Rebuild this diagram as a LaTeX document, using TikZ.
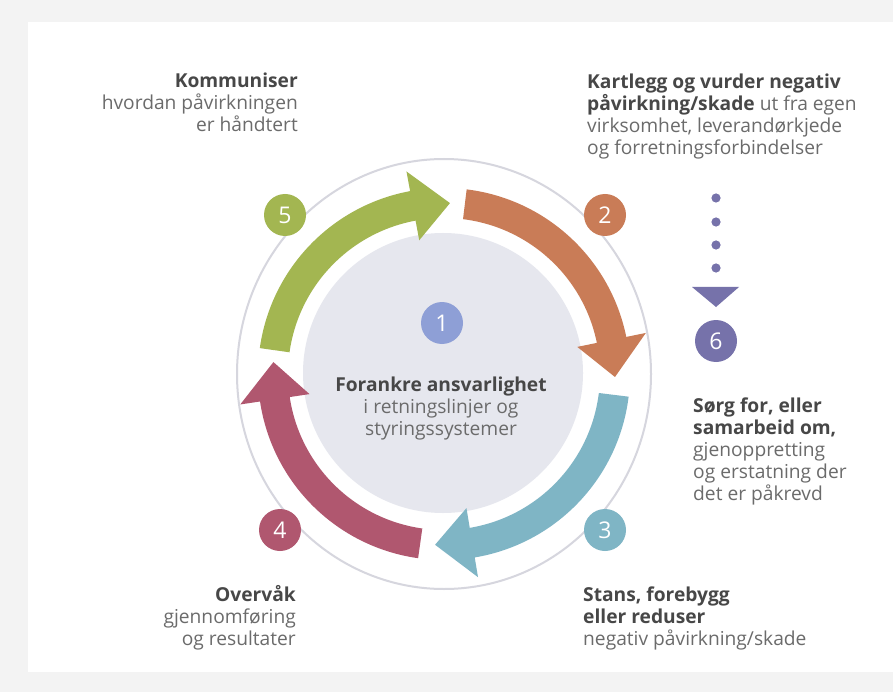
\documentclass[tikz,border=0pt]{standalone}
\usepackage{fontspec}
\setmainfont{Open Sans}
\usetikzlibrary{calc}
\definecolor{cgreen}{HTML}{A3B651}
\definecolor{corange}{HTML}{C97C57}
\definecolor{cblue}{HTML}{7FB5C5}
\definecolor{cpink}{HTML}{B0576F}
\definecolor{cone}{HTML}{8E9FD6}
\definecolor{csix}{HTML}{7672AA}
\definecolor{innergray}{HTML}{E6E7EE}
\definecolor{ringgray}{HTML}{D6D6DE}
\definecolor{bggray}{HTML}{F3F3F3}
\definecolor{headgray}{HTML}{474747}
\definecolor{bodygray}{HTML}{6B6B6B}
\newcommand\hd[1]{{\bfseries\color{headgray}#1}}
\newcommand\ringarrow[3]{%
  \pgfmathsetmacro\baseang{#3+12.5}%
  \fill[#1] ($(C)+(#2:186)$) arc[start angle=#2, end angle=\baseang, radius=186]
    -- ($(C)+(\baseang:206)$) -- ($(C)+(#3:171)$) -- ($(C)+(\baseang:136)$)
    -- ($(C)+(\baseang:156)$) arc[start angle=\baseang, end angle=#2, radius=156] -- cycle;
}
\tikzset{
  txt/.style={inner sep=0pt, font=\fontsize{19.2}{22}\selectfont, text=bodygray},
  numcirc/.style={circle, minimum size=42pt, inner sep=0pt, text=white,
    font=\fontsize{23}{23}\selectfont},
}
\begin{document}
\begin{tikzpicture}[x=1pt,y=1pt]
\useasboundingbox (0,0) rectangle (893,-692);
\fill[bggray] (0,0) rectangle (893,-692);
\fill[white] (28,-22) rectangle (893,-672);
\coordinate (C) at (444,-374);
% outer ring
\draw[ringgray, line width=2pt] (C) ellipse[x radius=207, y radius=215];
% inner disc
\fill[innergray] (443,-373) circle[radius=140];
% arrows
\ringarrow{cgreen}{172}{88}
\ringarrow{corange}{83}{-1}
\ringarrow{cblue}{-7}{-93}
\ringarrow{cpink}{-98}{-184}
% numbers
\node[numcirc, fill=cone] (n1) at (442,-323) {1};
\node[numcirc, fill=corange] (n2) at (605,-215) {2};
\node[numcirc, fill=cblue] (n3) at (605,-530) {3};
\node[numcirc, fill=cpink] (n4) at (280,-530) {4};
\node[numcirc, fill=cgreen] (n5) at (285,-215) {5};
\node[numcirc, fill=csix] (n6) at (716,-341) {6};
% dotted arrow to 6
\foreach \yy in {198,222,245,268} \fill[csix] (716,-\yy) circle[radius=4.6];
\fill[csix] (692,-287) -- (739,-287) -- (716,-307) -- cycle;
% texts (base anchor = baseline of the last line)
\node[txt, align=center, anchor=base] (t1) at (441,-435)
  {\hd{Forankre ansvarlighet}\\i retningslinjer og\\styringssystemer};
\node[txt, align=left, anchor=base west] (t2) at (587,-155)
  {\hd{Kartlegg og vurder negativ}\\\hd{påvirkning/skade} ut fra egen\\virksomhet, leverandørkjede\\og forretningsforbindelser};
\node[txt, align=left, anchor=base west] (t6) at (693,-500)
  {\hd{Sørg for, eller}\\\hd{samarbeid om,}\\gjenoppretting\\og erstatning der\\det er påkrevd};
\node[txt, align=left, anchor=base west] (t3) at (583,-645)
  {\hd{Stans, forebygg}\\\hd{eller reduser}\\negativ påvirkning/skade};
\node[txt, align=right, anchor=base east] (t4) at (296,-645)
  {\hd{Overvåk}\\gjennomføring\\og resultater};
\node[txt, align=right, anchor=base east] (t5) at (298,-132)
  {\hd{Kommuniser}\\hvordan påvirkningen\\er håndtert};
\end{tikzpicture}
\end{document}
